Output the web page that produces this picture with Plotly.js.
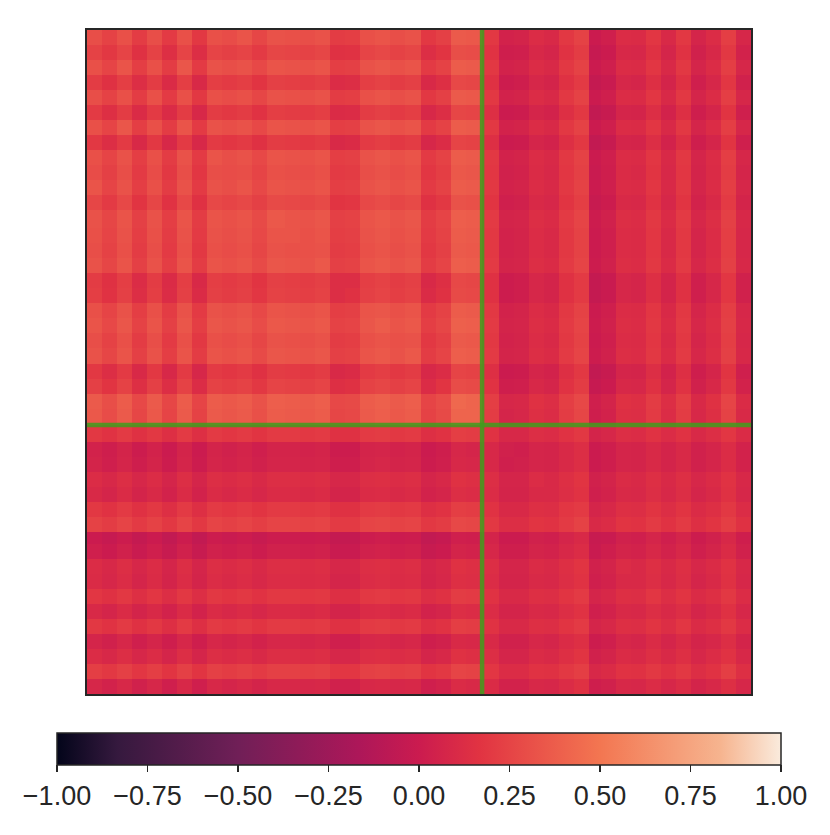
<!DOCTYPE html>
<html>
<head>
<meta charset="utf-8">
<script src="https://cdn.plot.ly/plotly-3.0.1.min.js"></script>
<style>html,body{margin:0;padding:0;background:#fff}#chart{width:830px;height:835px}</style>
</head>
<body>
<div id="chart"></div>
<script>
// Visual estimate of the correlation matrix, by coarse band, in hundredths.
var corrHundredths = [
[30,24,31,21,30,20,31,19,31,29,33,26,32,31,30,32,21,22,31,33,30,32,19,23,36,35,19,5,6,12,10,19,24,0,3,12,11,18,10,19,7,12,22,8],
[24,19,25,15,24,14,25,13,25,23,25,20,26,25,24,26,15,16,25,27,24,26,13,17,30,29,16,2,3,9,7,16,21,-3,0,9,8,15,7,16,4,9,19,5],
[31,25,33,22,31,21,34,20,32,30,32,27,33,32,31,33,22,23,32,34,31,33,20,24,37,36,19,5,6,12,10,19,24,0,3,12,11,18,10,19,7,12,22,8],
[21,15,22,13,21,11,22,10,22,20,22,17,23,22,21,23,12,13,22,24,21,23,10,14,27,26,15,1,2,8,6,15,20,-4,-1,8,7,14,6,15,3,8,18,4],
[30,24,31,21,31,20,31,19,31,29,31,26,32,31,30,32,21,22,31,33,30,32,19,23,36,35,19,5,6,12,10,19,24,0,3,12,11,18,10,19,7,12,22,8],
[20,14,21,11,20,11,21,9,21,19,21,16,22,21,20,22,11,12,21,23,20,22,9,13,26,25,14,0,1,7,5,14,19,-5,-2,7,6,13,5,14,2,7,17,3],
[31,25,34,22,31,21,33,20,32,30,32,27,33,32,31,33,22,23,32,34,31,33,20,24,37,36,19,5,6,12,10,19,24,0,3,12,11,18,10,19,7,12,22,8],
[19,13,20,10,19,9,20,9,20,18,20,15,21,20,19,21,10,11,20,22,19,21,8,12,25,24,14,0,1,7,5,14,19,-5,-2,7,6,13,5,14,2,7,17,3],
[31,25,32,22,31,21,32,20,33,30,32,27,33,32,31,33,22,23,32,34,31,33,20,24,37,36,19,5,6,12,10,19,24,0,3,12,11,18,10,19,7,12,22,8],
[29,23,30,20,29,19,30,18,30,29,30,25,31,30,29,31,20,21,30,32,29,31,18,22,35,34,18,4,5,11,9,18,23,-1,2,11,10,17,9,18,6,11,21,7],
[33,25,32,22,31,21,32,20,32,30,33,27,33,32,31,33,22,23,32,34,31,33,20,24,37,36,19,5,6,12,10,19,24,0,3,12,11,18,10,19,7,12,22,8],
[26,20,27,17,26,16,27,15,27,25,27,23,28,27,26,28,17,18,27,29,26,28,15,19,32,31,17,3,4,10,8,17,22,-2,1,10,9,16,8,17,5,10,20,6],
[32,26,33,23,32,22,33,21,33,31,33,28,35,33,32,34,23,24,33,35,32,34,21,25,38,37,20,6,7,13,11,20,25,1,4,13,12,19,11,20,8,13,23,9],
[31,25,32,22,31,21,32,20,32,30,32,27,33,33,31,33,22,23,32,34,31,33,20,24,37,36,19,5,6,12,10,19,24,0,3,12,11,18,10,19,7,12,22,8],
[30,24,31,21,30,20,31,19,31,29,31,26,32,31,31,32,21,22,31,33,30,32,19,23,36,35,19,5,6,12,10,19,24,0,3,12,11,18,10,19,7,12,22,8],
[32,26,33,23,32,22,33,21,33,31,33,28,34,33,32,35,23,24,33,35,32,34,21,25,38,37,20,6,7,13,11,20,25,1,4,13,12,19,11,20,8,13,23,9],
[21,15,22,12,21,11,22,10,22,20,22,17,23,22,21,23,13,13,22,24,21,23,10,14,27,26,15,1,2,8,6,15,20,-4,-1,8,7,14,6,15,3,8,18,4],
[22,16,23,13,22,12,23,11,23,21,23,18,24,23,22,24,13,15,23,25,22,24,11,15,28,27,15,1,2,8,6,15,20,-4,-1,8,7,14,6,15,3,8,18,4],
[31,25,32,22,31,21,32,20,32,30,32,27,33,32,31,33,22,23,33,34,31,33,20,24,37,36,19,5,6,12,10,19,24,0,3,12,11,18,10,19,7,12,22,8],
[33,27,34,24,33,23,34,22,34,32,34,29,35,34,33,35,24,25,34,37,33,35,22,26,39,38,20,6,7,13,11,20,25,1,4,13,12,19,11,20,8,13,23,9],
[30,24,31,21,30,20,31,19,31,29,31,26,32,31,30,32,21,22,31,33,31,32,19,23,36,35,19,5,6,12,10,19,24,0,3,12,11,18,10,19,7,12,22,8],
[32,26,33,23,32,22,33,21,33,31,33,28,34,33,32,34,23,24,33,35,32,35,21,25,38,37,20,6,7,13,11,20,25,1,4,13,12,19,11,20,8,13,23,9],
[19,13,20,10,19,9,20,8,20,18,20,15,21,20,19,21,10,11,20,22,19,21,9,12,25,24,14,0,1,7,5,14,19,-5,-2,7,6,13,5,14,2,7,17,3],
[23,17,24,14,23,13,24,12,24,22,24,19,25,24,23,25,14,15,24,26,23,25,12,17,29,28,16,2,3,9,7,16,21,-3,0,9,8,15,7,16,4,9,19,5],
[36,30,37,27,36,26,37,25,37,35,37,32,38,37,36,38,27,28,37,39,36,38,25,29,43,41,22,8,9,15,13,22,27,3,6,15,14,21,13,22,10,15,25,11],
[35,29,36,26,35,25,36,24,36,34,36,31,37,36,35,37,26,27,36,38,35,37,24,28,41,41,21,7,8,14,12,21,26,2,5,14,13,20,12,21,9,14,24,10],
[19,16,20,15,19,14,20,14,20,18,20,17,20,20,19,20,15,15,20,21,19,20,14,16,22,21,16,9,9,13,12,16,19,6,8,13,12,16,12,16,10,13,18,11],
[5,2,6,1,5,0,6,0,6,4,6,3,6,6,5,6,1,1,6,7,5,6,0,2,8,7,9,4,3,7,6,10,13,0,2,7,6,10,6,10,4,7,12,5],
[6,3,7,2,6,1,7,1,7,5,7,4,7,7,6,7,2,2,7,8,6,7,1,3,9,8,9,3,4,7,6,10,13,0,2,7,6,10,6,10,4,7,12,5],
[12,9,13,8,12,7,13,7,13,11,13,10,13,13,12,13,8,8,13,14,12,13,7,9,15,14,13,7,7,12,10,14,17,4,6,11,10,14,10,14,8,11,16,9],
[10,7,11,6,10,5,11,5,11,9,11,8,11,11,10,11,6,6,11,12,10,11,5,7,13,12,12,6,6,10,10,13,16,3,5,10,9,13,9,13,7,10,15,8],
[19,16,20,15,19,14,20,14,20,18,20,17,20,20,19,20,15,15,20,21,19,20,14,16,22,21,16,10,10,14,13,18,20,7,9,14,13,17,13,17,11,14,19,12],
[24,21,25,20,24,19,25,19,25,23,25,22,25,25,24,25,20,20,25,26,24,25,19,21,27,26,19,13,13,17,16,20,24,10,12,17,16,20,16,20,14,17,22,15],
[0,-3,1,-4,0,-5,1,-5,1,-1,1,-2,1,1,0,1,-4,-4,1,2,0,1,-5,-3,3,2,6,0,0,4,3,7,10,-2,-1,4,3,7,3,7,1,4,9,2],
[3,0,4,-1,3,-2,4,-2,4,2,4,1,4,4,3,4,-1,-1,4,5,3,4,-2,0,6,5,8,2,2,6,5,9,12,-1,2,6,5,9,5,9,3,6,11,4],
[12,9,13,8,12,7,13,7,13,11,13,10,13,13,12,13,8,8,13,14,12,13,7,9,15,14,13,7,7,11,10,14,17,4,6,12,10,14,10,14,8,11,16,9],
[11,8,12,7,11,6,12,6,12,10,12,9,12,12,11,12,7,7,12,13,11,12,6,8,14,13,12,6,6,10,9,13,16,3,5,10,10,13,9,13,7,10,15,8],
[18,15,19,14,18,13,19,13,19,17,19,16,19,19,18,19,14,14,19,20,18,19,13,15,21,20,16,10,10,14,13,17,20,7,9,14,13,18,13,17,11,14,19,12],
[10,7,11,6,10,5,11,5,11,9,11,8,11,11,10,11,6,6,11,12,10,11,5,7,13,12,12,6,6,10,9,13,16,3,5,10,9,13,10,13,7,10,15,8],
[19,16,20,15,19,14,20,14,20,18,20,17,20,20,19,20,15,15,20,21,19,20,14,16,22,21,16,10,10,14,13,17,20,7,9,14,13,17,13,18,11,14,19,12],
[7,4,8,3,7,2,8,2,8,6,8,5,8,8,7,8,3,3,8,9,7,8,2,4,10,9,10,4,4,8,7,11,14,1,3,8,7,11,7,11,6,8,13,6],
[12,9,13,8,12,7,13,7,13,11,13,10,13,13,12,13,8,8,13,14,12,13,7,9,15,14,13,7,7,11,10,14,17,4,6,11,10,14,10,14,8,12,16,9],
[22,19,23,18,22,17,23,17,23,21,23,20,23,23,22,23,18,18,23,24,22,23,17,19,25,24,18,12,12,16,15,19,22,9,11,16,15,19,15,19,13,16,22,14],
[8,5,9,4,8,3,9,3,9,7,9,6,9,9,8,9,4,4,9,10,8,9,3,5,11,10,11,5,5,9,8,12,15,2,4,9,8,12,8,12,6,9,14,8]
];
var bandEdges = [0,5,10,15,20,25,30,35,40,45,50,55,60,66,71,76,81,86,91,96,101,106,111,116,121,126,131.5,137,142,147,152,157,162,167,171,176,181,186,191,196,201,206,211,216,221];
var colorStops = [0,0.0833,0.25,0.4167,0.5,0.5833,0.75,0.9167,1];
var colorHex = ['#03051a','#35193e','#701f57','#ad1759','#cb1b4f','#e13342','#f37651','#f6b48f','#faebdd'];
var tickValues = [-1,-0.75,-0.5,-0.25,0,0.25,0.5,0.75,1];
var maskedIndex = [131.5,131.5];
var fullSpan = [0,221];

var z = corrHundredths.map(function(r){return r.map(function(v){return v/100;});});
var colorscale = colorStops.map(function(s,i){return [s,colorHex[i]];});
var dark = '#262626';
var W = 830, H = 835;
var green = 'rgba(62,158,28,0.85)';

Plotly.newPlot('chart',[
 {type:'heatmap',z:z,x:bandEdges,y:bandEdges,zmin:-1,zmax:1,colorscale:colorscale,hoverinfo:'skip',
  colorbar:{orientation:'h',thicknessmode:'pixels',thickness:32,lenmode:'pixels',len:724,
   x:57/W,xanchor:'left',y:1-733/H,yanchor:'top',xpad:0,ypad:0,
   outlinecolor:dark,outlinewidth:1.5,borderwidth:0,
   ticks:'outside',ticklen:7,tickwidth:1.5,tickcolor:dark,tickmode:'array',tickvals:tickValues,
   tickformat:'.2f',tickfont:{family:'"Liberation Sans",Arial,sans-serif',size:27,color:dark}}},
 {type:'scatter',mode:'lines',x:maskedIndex,y:fullSpan,line:{color:green,width:4.5},hoverinfo:'skip',showlegend:false},
 {type:'scatter',mode:'lines',x:fullSpan,y:maskedIndex,line:{color:green,width:4.5},hoverinfo:'skip',showlegend:false}
],{
 width:W,height:H,margin:{l:0,r:0,t:0,b:0,autoexpand:false},paper_bgcolor:'#fff',plot_bgcolor:'#fff',showlegend:false,
 xaxis:{domain:[87/W,751/W],range:[0,221],showticklabels:false,ticks:'',showgrid:false,zeroline:false,showline:true,mirror:true,linecolor:dark,linewidth:2},
 yaxis:{domain:[1-694/H,1-30/H],range:[221,0],showticklabels:false,ticks:'',showgrid:false,zeroline:false,showline:true,mirror:true,linecolor:dark,linewidth:2}
},{displayModeBar:false,staticPlot:true});
</script>
</body>
</html>
